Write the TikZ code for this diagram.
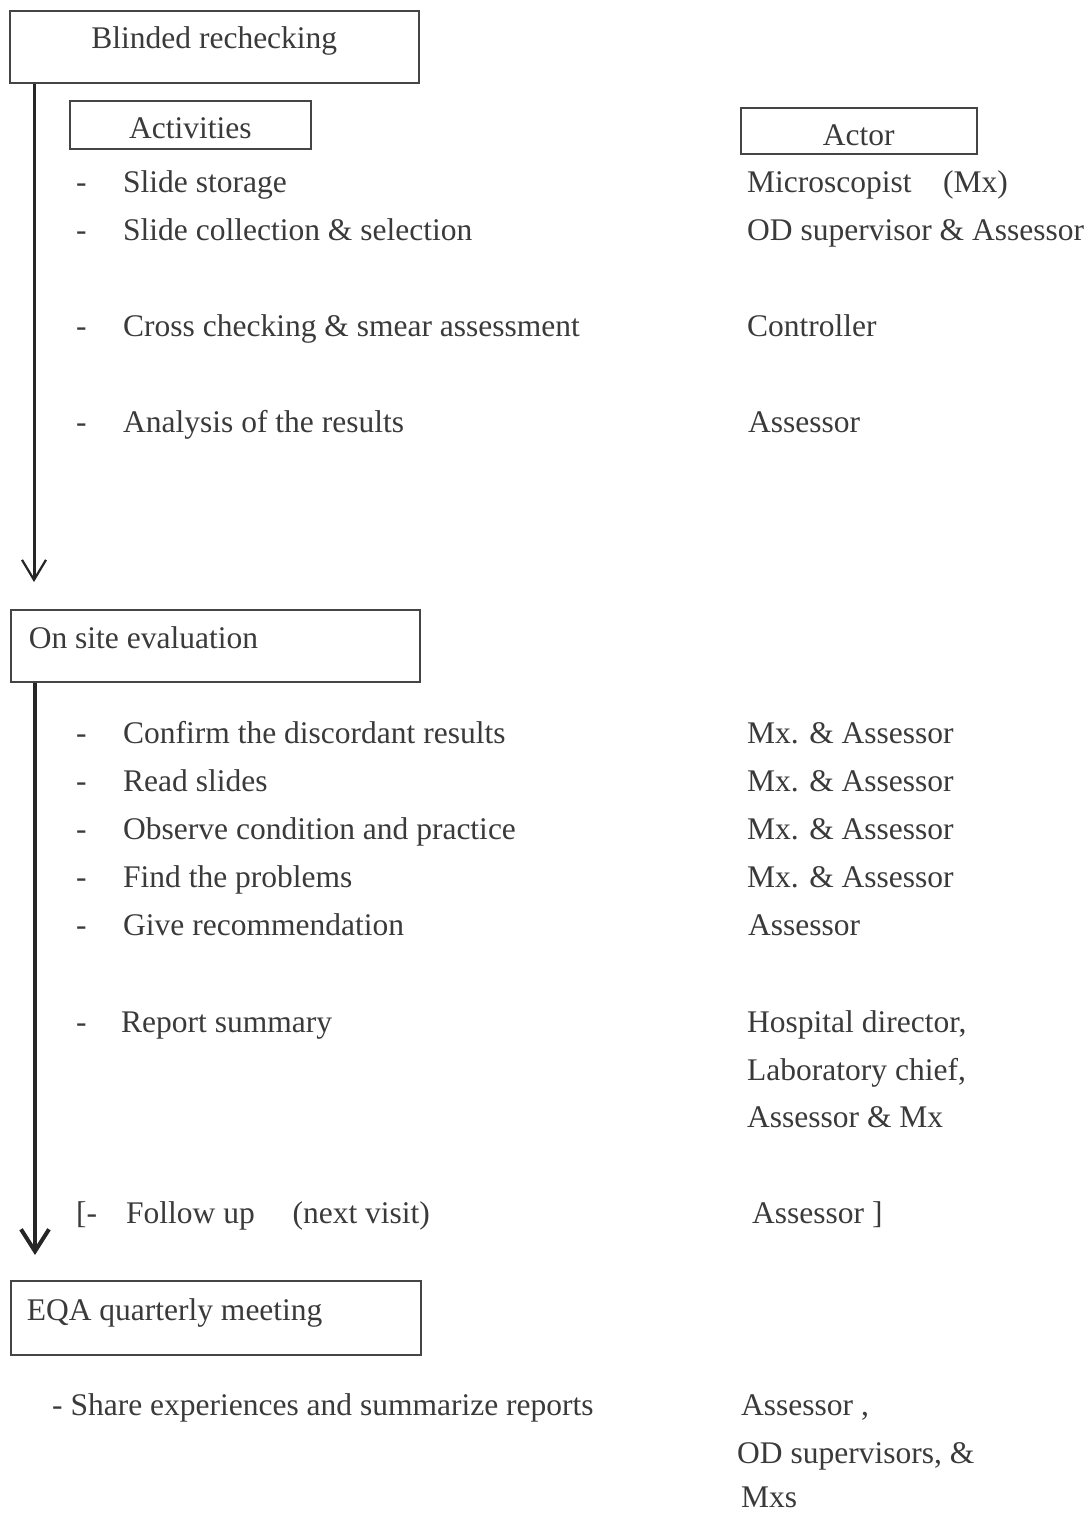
\documentclass[tikz,border=0pt]{standalone}
\usepackage{fontspec}
\setmainfont{Liberation Serif}
\usetikzlibrary{arrows.meta}
\definecolor{inkgray}{HTML}{3A3A3A}
\definecolor{boxgray}{HTML}{454545}
\tikzset{
    stage/.style={
           draw=boxgray, line width=1.6pt,
           inner sep=0pt,
           text=inkgray,
           anchor=north west,
           },
}
\tikzset{
    item/.style={
           anchor=base west,
           inner sep=0pt,
           text=inkgray,
           },
}
\tikzset{
    flow/.style={
           draw=black!85, line width=3pt,
           -{Straight Barb[length=20pt,width=24pt,line width=2.2pt]},
           },
    boldflow/.style={
           draw=black!85, line width=4.5pt,
           -{Straight Barb[length=22pt,width=28pt,line width=4pt]},
           },
}

\begin{document}
\begin{tikzpicture}[x=1pt,y=-1pt,font=\fontsize{31.5}{37}\selectfont]
\useasboundingbox (0,0) rectangle (1086,1513);
% stage boxes
\node[stage,minimum width=409pt,minimum height=72pt,text height=24pt,text depth=20pt](blind) at (9,10){Blinded rechecking};
\node[stage,minimum width=241pt,minimum height=48pt,text height=28pt,text depth=0pt](activities) at (69,100){Activities};
\node[stage,minimum width=236pt,minimum height=46pt,text height=30pt,text depth=0pt](actor) at (740,107){Actor};
\node[stage,minimum height=72pt,text width=373pt,align=flush left,inner xsep=18pt,text height=24pt,text depth=18pt](onsite) at (10,609){On site evaluation};
\node[stage,minimum height=74pt,text width=378pt,align=flush left,inner xsep=16pt,text height=24pt,text depth=18pt](eqa) at (10,1280){EQA quarterly meeting};
% flow arrows
\coordinate (tip1) at (34,582);
\coordinate (tip2) at (35,1255);
\draw[flow] (blind.south -| tip1) -- (tip1);
\draw[boldflow] (onsite.south -| tip2) -- (tip2);
% blinded rechecking items
\node[item](d1) at (76,192){-};
\node[item](a1) at (123,192){Slide storage};
\node[item](w1) at (747,192){Microscopist\hspace{1em}(Mx)};
\node[item](d2) at (76,240){-};
\node[item](a2) at (123,240){Slide collection \& selection};
\node[item](w2) at (747,240){OD supervisor \& Assessor};
\node[item](d3) at (76,336){-};
\node[item](a3) at (123,336){Cross checking \& smear assessment};
\node[item](w3) at (747,336){Controller};
\node[item](d4) at (76,432){-};
\node[item](a4) at (123,432){Analysis of the results};
\node[item](w4) at (748,432){Assessor};
% on site items
\node[item](d5) at (76,743){-};
\node[item](a5) at (123,743){Confirm the discordant results};
\node[item](w5) at (747,743){Mx. \& Assessor};
\node[item](d6) at (76,791){-};
\node[item](a6) at (123,791){Read slides};
\node[item](w6) at (747,791){Mx. \& Assessor};
\node[item](d7) at (76,839){-};
\node[item](a7) at (123,839){Observe condition and practice};
\node[item](w7) at (747,839){Mx. \& Assessor};
\node[item](d8) at (76,887){-};
\node[item](a8) at (123,887){Find the problems};
\node[item](w8) at (747,887){Mx. \& Assessor};
\node[item](d9) at (76,935){-};
\node[item](a9) at (123,935){Give recommendation};
\node[item](w9) at (748,935){Assessor};
\node[item](d10) at (76,1032){-};
\node[item](a10) at (121,1032){Report summary};
\node[item](w10) at (747,1032){Hospital director,};
\node[item](w10b) at (747,1080){Laboratory chief,};
\node[item](w10c) at (747,1127){Assessor \& Mx};
\node[item](d11) at (76,1223){[-};
\node[item](a11) at (126,1223){Follow up\hspace{1.2em}(next visit)};
\node[item](w11) at (752,1223){Assessor ]};
% meeting items
\node[item](a12) at (52,1415){- Share experiences and summarize reports};
\node[item](w12) at (741,1415){Assessor ,};
\node[item](w12b) at (737,1463){OD supervisors, \&};
\node[item](w12c) at (741,1507){Mxs};
\end{tikzpicture}
\end{document}
